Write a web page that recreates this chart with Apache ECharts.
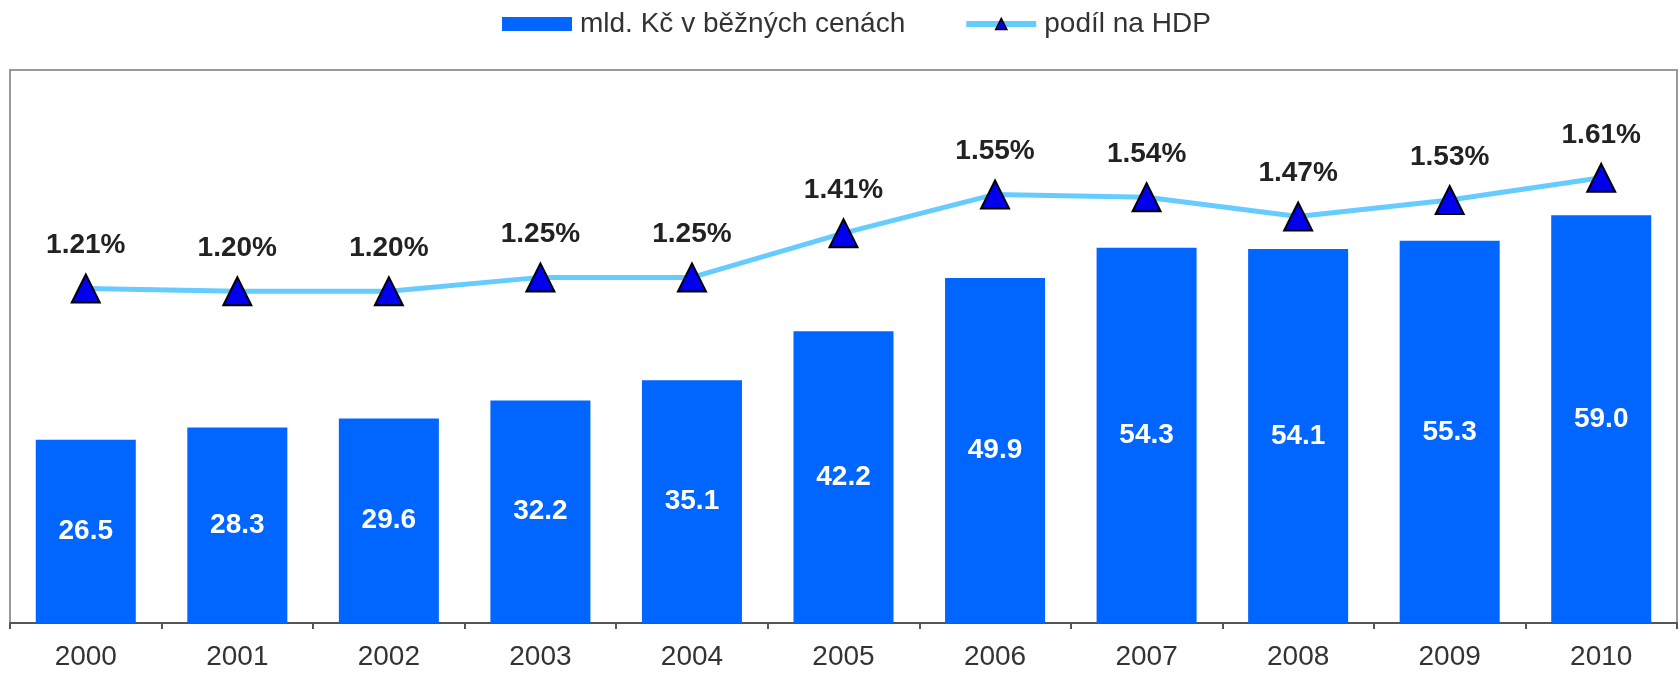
<!DOCTYPE html>
<html>
<head>
<meta charset="utf-8">
<script src="https://cdn.jsdelivr.net/npm/echarts@6/dist/echarts.min.js"></script>
<style>html,body{margin:0;padding:0;background:#fff}#c{width:1680px;height:673px}</style>
</head>
<body>
<div id="c"></div>
<script>
const years = ['2000','2001','2002','2003','2004','2005','2006','2007','2008','2009','2010'];
const spending = [26.5, 28.3, 29.6, 32.2, 35.1, 42.2, 49.9, 54.3, 54.1, 55.3, 59.0];
const shareGDP = [1.21, 1.20, 1.20, 1.25, 1.25, 1.41, 1.55, 1.54, 1.47, 1.53, 1.61];
const seriesNames = ['mld. Kč v běžných cenách', 'podíl na HDP'];

const chart = echarts.init(document.getElementById('c'));
const FONT = '"Liberation Sans", Arial, sans-serif';
chart.setOption({
  animation: false,
  textStyle: { fontFamily: FONT },
  legend: {
    top: 5, left: 497, itemGap: 58, itemWidth: 70, itemHeight: 14,
    textStyle: { fontSize: 28, color: '#333', fontFamily: FONT, padding: [0, 0, 0, 3] },
    data: [
      { name: seriesNames[0], icon: 'rect' },
      { name: seriesNames[1], lineStyle: { width: 6, color: '#66CCFF' }, itemStyle: { borderWidth: 1.5, borderColor: '#000', color: '#0000EE' } }
    ]
  },
  grid: { left: 10, right: 3, top: 70, bottom: 50, show: true, borderColor: '#999', borderWidth: 2, containLabel: false },
  xAxis: {
    type: 'category', data: years, boundaryGap: true,
    axisLine: { lineStyle: { color: '#555', width: 2 } },
    axisTick: { show: true, length: 6, lineStyle: { color: '#555', width: 2 } },
    axisLabel: { fontSize: 28, color: '#333', margin: 20, fontFamily: FONT }
  },
  yAxis: [
    { type: 'value', min: 0, max: 80, show: false, splitLine: { show: false } },
    { type: 'value', min: 0, max: 2, show: false, splitLine: { show: false } }
  ],
  series: [
    {
      name: seriesNames[0], type: 'bar', data: spending, yAxisIndex: 0,
      barCategoryGap: '34%',
      itemStyle: { color: '#0066FF' },
      label: { show: true, position: 'inside', color: '#fff', fontWeight: 'bold', fontSize: 28, fontFamily: FONT,
               formatter: p => p.value.toFixed(1) }
    },
    {
      name: seriesNames[1], type: 'line', data: shareGDP, yAxisIndex: 1,
      symbol: 'triangle', symbolSize: [28, 28],
      lineStyle: { color: '#66CCFF', width: 5 },
      itemStyle: { color: '#0000EE', borderColor: '#000', borderWidth: 2 },
      label: { show: true, position: 'top', distance: 14, color: '#222', fontWeight: 'bold', fontSize: 28, fontFamily: FONT,
               formatter: p => p.value.toFixed(2) + '%' },
      z: 5
    }
  ]
});
</script>
</body>
</html>
